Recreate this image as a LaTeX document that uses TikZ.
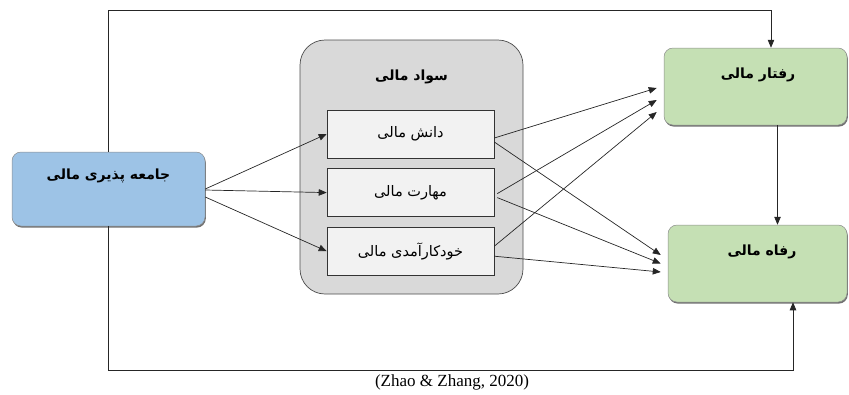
\documentclass[tikz,border=0pt]{standalone}
\usepackage{fontspec}
\setmainfont{Liberation Serif}
\newfontfamily\farsi[Script=Arabic]{DejaVu Sans}
\TeXXeTstate=1
\usetikzlibrary{positioning}
\usetikzlibrary{arrows.meta}
\usetikzlibrary{shadows}
\newcommand{\fa}[1]{{\farsi\beginR #1\endR}}
\definecolor{boxblue}{HTML}{9DC3E6}
\definecolor{boxgreen}{HTML}{C5E0B4}
\definecolor{boxgrey}{HTML}{D9D9D9}
\definecolor{boxlight}{HTML}{F2F2F2}

\begin{document}
\begin{tikzpicture}[x=1pt, y=-1pt, ->, >={Triangle[length=8pt,width=6.5pt]}, line width=0.7pt, draw=black!85]
    \tikzstyle{mainbox}=[rectangle, rounded corners=9pt, draw=black!45, line width=0.5pt, drop shadow={shadow xshift=0.8pt, shadow yshift=-1.6pt, fill=black!70, opacity=0.8}, minimum width=183pt, minimum height=77pt]
    \tikzstyle{subbox}=[rectangle, draw=black!80, fill=boxlight, line width=0.6pt, minimum width=167pt, minimum height=48pt, font=\fontsize{14.5}{16}\selectfont]
    \tikzstyle{title}=[font=\fontsize{14}{16}\selectfont\bfseries, inner sep=1pt]

    \useasboundingbox (0,0) rectangle (849,394);

    %% Source
    \node[mainbox, fill=boxblue, minimum width=193pt, minimum height=74pt] (soc) at (108.5,189) {};
    \node[title] (socT) at (108.5,176) {\fa{جامعه پذیری مالی}};

    %% Literacy
    \node[rectangle, rounded corners=25pt, draw=black!70, fill=boxgrey, line width=0.7pt, minimum width=223pt, minimum height=254pt] (lit) at (411.5,167) {};
    \node[title] (litT) at (411.5,77) {\fa{سواد مالی}};
    \node[subbox] (know) at (410.5,134) {\fa{دانش مالی}};
    \node[subbox, below=10pt of know] (skill) {\fa{مهارت مالی}};
    \node[subbox, below=10pt of skill] (eff) {\fa{خودکارآمدی مالی}};

    %% Outcomes
    \node[mainbox, fill=boxgreen] (beh) at (755.5,86.5) {};
    \node[title] (behT) at (758,75) {\fa{رفتار مالی}};
    \node[mainbox, fill=boxgreen, minimum width=179pt] (wel) at (757.5,263.5) {};
    \node[title] (welT) at (762,252) {\fa{رفاه مالی}};

    \coordinate (tr) at (771,10);
    \coordinate (br) at (793,370);

    \draw (soc.north) |- (tr) -- (tr |- beh.north);
    \draw (soc.south) |- (br) -- (br |- wel.south);

    \draw (soc.east) -- (know.west);
    \draw ([yshift=-1pt]soc.east) -- (skill.west);
    \draw ([yshift=-8pt]soc.east) -- (eff.west);

    \draw ([yshift=-4pt]know.east) -- ([xshift=-7pt,yshift=-1.5pt]beh.west);
    \draw ([xshift=3pt,yshift=-1pt]skill.east) -- ([xshift=-7pt,yshift=-13.5pt]beh.west);
    \draw ([yshift=5pt]eff.east) -- ([xshift=-7pt,yshift=-25.5pt]beh.west);

    \draw ([yshift=-8pt]know.east) -- ([xshift=-7pt,yshift=8.5pt]wel.west);
    \draw ([xshift=3pt,yshift=-5pt]skill.east) -- ([xshift=-7pt,yshift=0pt]wel.west);
    \draw ([yshift=-5pt]eff.east) -- ([xshift=-7pt,yshift=-8.5pt]wel.west);

    \draw ([xshift=22pt]beh.south) -- ([xshift=20pt]wel.north);

    \node[font=\fontsize{17}{20}\selectfont, inner sep=0pt] (src) at (452,382) {(Zhao \& Zhang, 2020)};
\end{tikzpicture}
\end{document}
